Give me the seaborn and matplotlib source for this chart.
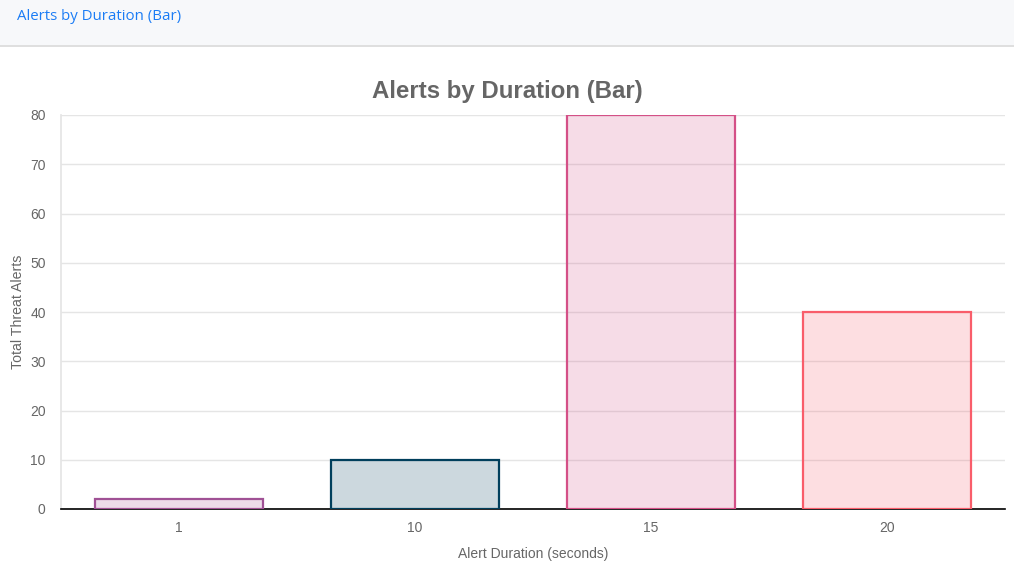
import matplotlib.pyplot as plt
import seaborn as sns
import pandas as pd
from matplotlib.patches import Rectangle
from matplotlib.lines import Line2D
from matplotlib.colors import to_rgba

# Datos del grafico
durations = ['1', '10', '15', '20']
alerts = [2, 10, 80, 40]
edge_colors = ['#a05195', '#003f5c', '#d45087', '#f95d6a']

df = pd.DataFrame({'Duration': durations, 'Alerts': alerts})

sns.set_theme(style='white')
plt.rcParams['font.family'] = ['Liberation Sans', 'DejaVu Sans']

fig = plt.figure(figsize=(10.14, 5.66), dpi=100)
W, H = 1014, 566

# Barra superior (cabecera)
fig.add_artist(Rectangle((0, 1 - 45 / H), 1, 45 / H, transform=fig.transFigure,
                         facecolor='#f7f8fa', edgecolor='none', zorder=0))
fig.add_artist(Line2D([0, 1], [1 - 45.5 / H, 1 - 45.5 / H], transform=fig.transFigure,
                      color='#d9d9d9', lw=1.2))
fig.text(17 / W, 1 - 16 / H, 'Alerts by Duration (Bar)', color='#1a7cf5', fontsize=10.8,
         family=['Open Sans', 'DejaVu Sans'], va='center', ha='left')

ax = fig.add_axes([61 / W, (H - 509) / H, (1005 - 61) / W, (509 - 115) / H])
sns.barplot(data=df, x='Duration', y='Alerts', hue='Duration', palette=edge_colors,
            width=0.71, legend=False, ax=ax, zorder=3)
for patch, c in zip(ax.patches, edge_colors):
    patch.set_facecolor(to_rgba(c, 0.2))
    patch.set_edgecolor(c)
    patch.set_linewidth(1.6)

ax.set_ylim(0, 80)
ax.set_yticks(range(0, 81, 10))
ax.grid(axis='y', color='#e5e5e5', lw=1, zorder=0)
ax.tick_params(axis='y', length=8, color='#e5e5e5', labelcolor='#666666', labelsize=10, pad=3)
ax.tick_params(axis='x', length=0, labelcolor='#666666', labelsize=10, pad=9)
ax.spines['top'].set_visible(False)
ax.spines['right'].set_visible(False)
ax.spines['left'].set_color('#e5e5e5')
ax.spines['bottom'].set_color('#000000')
ax.spines['bottom'].set_linewidth(1.2)
ax.set_xlabel('Alert Duration (seconds)', color='#666666', fontsize=10, labelpad=8.5)
ax.set_ylabel('Total Threat Alerts', color='#666666', fontsize=10.2, labelpad=4)

fig.text(0.5, 1 - 91.5 / H, 'Alerts by Duration (Bar)', ha='center', va='center',
         fontsize=17.3, fontweight='bold', color='#666666')

fig.savefig('out.png', dpi=100)
